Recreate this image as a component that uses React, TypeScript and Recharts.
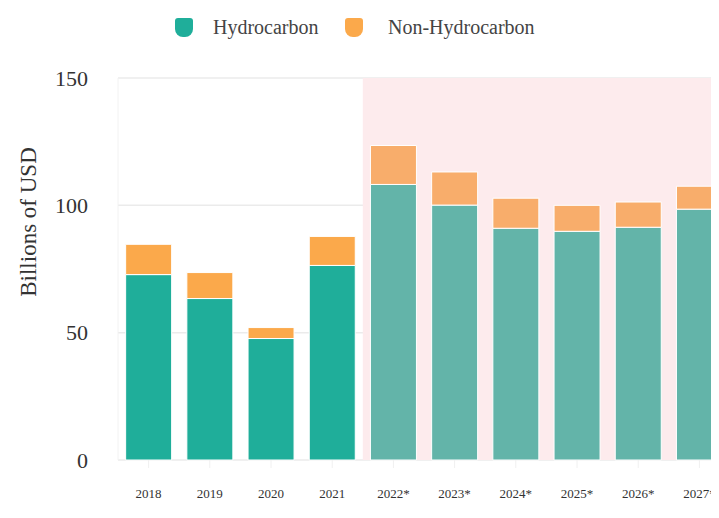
import { BarChart, Bar, Cell, XAxis, YAxis, CartesianGrid, Legend, ReferenceArea } from 'recharts';

const years = ['2018', '2019', '2020', '2021', '2022*', '2023*', '2024*', '2025*', '2026*', '2027*'];
const hydrocarbon = [72.8, 63.4, 47.7, 76.4, 108.2, 100.1, 91.0, 89.8, 91.4, 98.5];
const nonHydrocarbon = [11.9, 10.2, 4.3, 11.4, 15.3, 13.0, 11.8, 10.2, 9.9, 9.0];
const forecastYears = ['2022*', '2023*', '2024*', '2025*', '2026*', '2027*'];
const yTicks = [0, 50, 100, 150];

const data = years.map((year, i) => ({
  year,
  hydrocarbon: hydrocarbon[i],
  nonHydrocarbon: nonHydrocarbon[i],
}));

const serif = "'Liberation Serif', 'Times New Roman', serif";

const colors = {
  hydro: '#1fae9a',
  hydroForecast: '#63b4a9',
  non: '#fba94b',
  nonForecast: '#f8ad6b',
  shade: '#fdebed',
};

function ChartLegend() {
  const item = (left: number, textLeft: number, color: string, label: string) => (
    <div key={label}>
      <div
        style={{
          position: 'absolute', left, top: 10, width: 18, height: 19,
          background: color, borderRadius: '3px 3px 8px 8px',
        }}
      />
      <div
        style={{
          position: 'absolute', left: textLeft, top: 8, fontFamily: serif,
          fontSize: 20, color: '#444', whiteSpace: 'nowrap',
        }}
      >
        {label}
      </div>
    </div>
  );
  return (
    <div style={{ position: 'relative', height: 40 }}>
      {item(167, 205, colors.hydro, 'Hydrocarbon')}
      {item(337, 380, colors.non, 'Non-Hydrocarbon')}
    </div>
  );
}

export default function App() {
  return (
    <div style={{ width: 711, height: 510, overflow: 'hidden' }}>
      <BarChart
        width={722}
        height={510}
        data={data}
        margin={{ top: 30, right: 0, left: 0, bottom: 0 }}
        barCategoryGap="12.5%"
      >
        <CartesianGrid vertical={false} stroke="#ebebeb" strokeWidth={1.5} />
        <XAxis
          dataKey="year"
          height={58}
          axisLine={false}
          tickSize={8}
          tickMargin={21}
          tickLine={{ stroke: '#f0f0f0' }}
          tick={{ fill: '#333', fontSize: 13, fontFamily: serif }}
          interval={0}
        />
        <YAxis
          width={110}
          domain={[0, 150]}
          ticks={yTicks}
          tickLine={false}
          axisLine={{ stroke: '#f2f2f2' }}
          tickMargin={24}
          tick={{ fill: '#333', fontSize: 22, fontFamily: serif }}
          label={{
            content: () => (
              <text
                x={28}
                y={214}
                transform="rotate(-90, 28, 214)"
                textAnchor="middle"
                fontFamily={serif}
                fontSize={23}
                fill="#333"
              >
                Billions of USD
              </text>
            ),
          }}
        />
        <ReferenceArea
          x1={forecastYears[0]}
          x2={forecastYears[forecastYears.length - 1]}
          fill={colors.shade}
          fillOpacity={1}
          ifOverflow="visible"
        />
        <Legend verticalAlign="top" content={() => <ChartLegend />} wrapperStyle={{ top: 0, left: 0, width: 722 }} />
        <Bar dataKey="hydrocarbon" stackId="a" stroke="#fff" strokeWidth={1} isAnimationActive={false}>
          {data.map((d) => (
            <Cell key={d.year} fill={forecastYears.includes(d.year) ? colors.hydroForecast : colors.hydro} />
          ))}
        </Bar>
        <Bar dataKey="nonHydrocarbon" stackId="a" stroke="#fff" strokeWidth={1} isAnimationActive={false}>
          {data.map((d) => (
            <Cell key={d.year} fill={forecastYears.includes(d.year) ? colors.nonForecast : colors.non} />
          ))}
        </Bar>
      </BarChart>
    </div>
  );
}
